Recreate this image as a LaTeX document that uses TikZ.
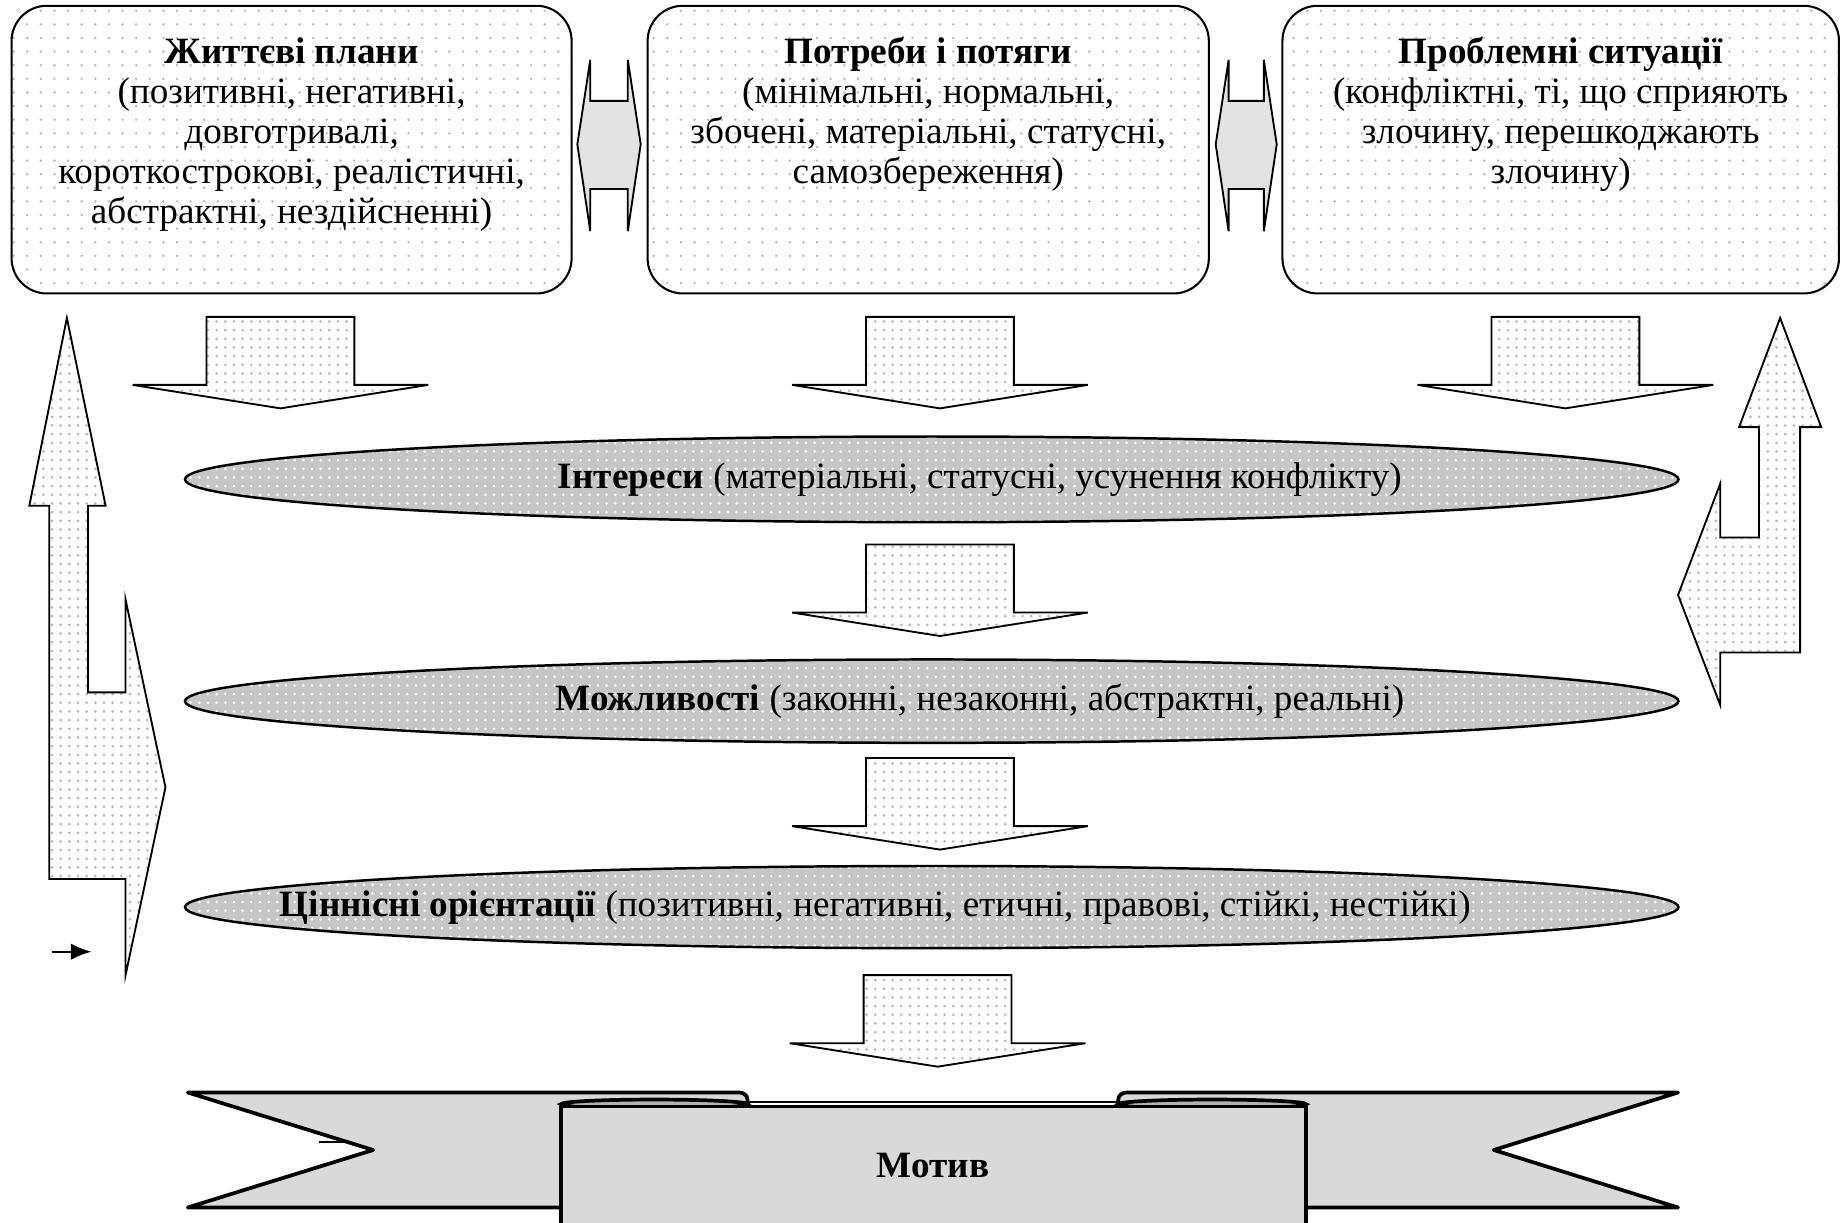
\documentclass[tikz,border=0pt]{standalone}
\usepackage{fontspec}
\setmainfont{Liberation Serif}
\usetikzlibrary{arrows.meta,positioning,shapes.geometric,patterns.meta,calc}

\tikzdeclarepattern{
  name=boxdots,
  type=uncolored,
  bounding box={(-0.5pt,-0.5pt) and (0.5pt,0.5pt)},
  tile size={(3.3pt,3.3pt)},
  code={\fill (0pt,0pt) circle [radius=0.33pt];}
}
\tikzdeclarepattern{
  name=arrdots,
  type=uncolored,
  bounding box={(-0.5pt,-0.5pt) and (0.5pt,0.5pt)},
  tile size={(2.1pt,2.1pt)},
  code={\fill (0pt,0pt) circle [radius=0.36pt];}
}

\begin{document}
\begin{tikzpicture}[x=0.01cm, y=-0.01cm,
  font=\fontsize{9}{9.7}\selectfont,
  topbox/.style={draw, rounded corners=0.3cm, line width=0.5pt, minimum width=4.77cm, minimum height=2.45cm, preaction={fill=white}, pattern=boxdots, pattern color=gray!55},
  boxtext/.style={align=center, inner sep=0pt, anchor=north},
  oval/.style={draw, ellipse, line width=0.6pt, minimum width=12.72cm, minimum height=0.72cm, inner sep=0pt, preaction={fill=gray!45}, pattern=arrdots, pattern color=white},
  blockarr/.style={draw, line width=0.45pt, line join=miter, preaction={fill=white}, pattern=arrdots, pattern color=gray!55},
  dblarr/.style={draw, line width=0.45pt, fill=gray!22},
  ribbon/.style={draw, line width=0.9pt, line join=round, fill=gray!30},
  fold/.style={draw, line width=0.9pt, fill=gray!60}
]
  \useasboundingbox (0,0) rectangle (1568,1042);

  % top boxes
  \node[topbox] (plans) at (248.5,127.5) {};
  \node[topbox, minimum width=4.78cm] (needs) at (791,127.5) {};
  \node[topbox, minimum width=4.74cm] (situ) at (1330,127.5) {};

  \node[boxtext, below=0.27cm of plans.north] (plans-t) {\textbf{Життєві плани}\\(позитивні, негативні,\\довготривалі,\\короткострокові, реалістичні,\\абстрактні, нездійсненні)};
  \node[boxtext, below=0.27cm of needs.north] (needs-t) {\textbf{Потреби і потяги}\\(мінімальні, нормальні,\\збочені, матеріальні, статусні,\\самозбереження)};
  \node[boxtext, below=0.27cm of situ.north] (situ-t) {\textbf{Проблемні ситуації}\\(конфліктні, ті, що сприяють\\злочину, перешкоджають\\злочину)};

  % arrows between the boxes
  \draw[dblarr] (492,123) -- (503,51) -- (503,86) -- (535,86) -- (535,51) -- (546,123)
    -- (535,197) -- (535,161) -- (503,161) -- (503,197) -- cycle;
  \draw[dblarr] (1036,123) -- (1047,51) -- (1047,86) -- (1077,86) -- (1077,51) -- (1088,123)
    -- (1077,197) -- (1077,161) -- (1047,161) -- (1047,197) -- cycle;

  % ovals
  \node[oval, minimum height=0.73cm] (interest) at (794,408.5) {};
  \node[oval, minimum height=0.71cm] (chance) at (794,597.5) {};
  \node[oval, minimum height=0.70cm] (values) at (794,773) {};

  \node[xshift=0.41cm] (interest-t) at (interest.center) {\textbf{Інтереси} (матеріальні, статусні, усунення конфлікту)};
  \node[xshift=0.41cm] (chance-t) at (chance.center) {\textbf{Можливості} (законні, незаконні, абстрактні, реальні)};
  \node[xshift=-0.48cm] (values-t) at (values.center) {\textbf{Ціннісні орієнтації} (позитивні, негативні, етичні, правові, стійкі, нестійкі)};

  % down arrows
  \foreach \x/\y in {239/270, 801/270, 1334/270, 801/464, 801/646, 799/831} {
    \draw[blockarr] ({\x-63},\y) -- ({\x+63},\y) -- ({\x+63},{\y+58}) -- ({\x+126},{\y+58})
      -- (\x,{\y+78}) -- ({\x-126},{\y+58}) -- ({\x-63},{\y+58}) -- cycle;
  }

  % side arrows
  \draw[blockarr] (57,271) -- (90,431) -- (75,431) -- (75,590) -- (107,590) -- (107,511)
    -- (141,671) -- (107,831) -- (107,749) -- (42,749) -- (42,431) -- (25,431) -- cycle;
  \draw[blockarr] (1517,271) -- (1552,364) -- (1534,364) -- (1534,556) -- (1466,556) -- (1466,601)
    -- (1430,507) -- (1466,412) -- (1466,458) -- (1499,458) -- (1499,364) -- (1482,364) -- cycle;

  \coordinate (s1) at (44,811);
  \coordinate (s2) at (78,811);
  \draw[line width=0.5pt, -{Latex[length=5pt,width=4pt]}] (s1) -- (s2);

  % ribbon
  \draw[ribbon] (160,931) -- (630,931) to[out=0,in=90] (637,937) -- (637,1029) -- (160,1029) -- (318,980) -- cycle;
  \draw[ribbon] (1430,931) -- (960,931) to[out=180,in=90] (953,937) -- (953,1029) -- (1430,1029) -- (1273,980) -- cycle;
  \draw[line width=0.4pt] (272,973) -- (295,973);
  \draw[fold] (557.5,941) ellipse [x radius=79.5, y radius=4];
  \draw[fold] (1033,941) ellipse [x radius=80, y radius=4];
  \draw[ribbon] (478,943) rectangle (1113,1080);
  \draw[line width=0.5pt] (637,939) -- (953,939);
  \node[font=\fontsize{9}{9.7}\selectfont\bfseries] (motive) at (795,993) {Мотив};
\end{tikzpicture}
\end{document}
